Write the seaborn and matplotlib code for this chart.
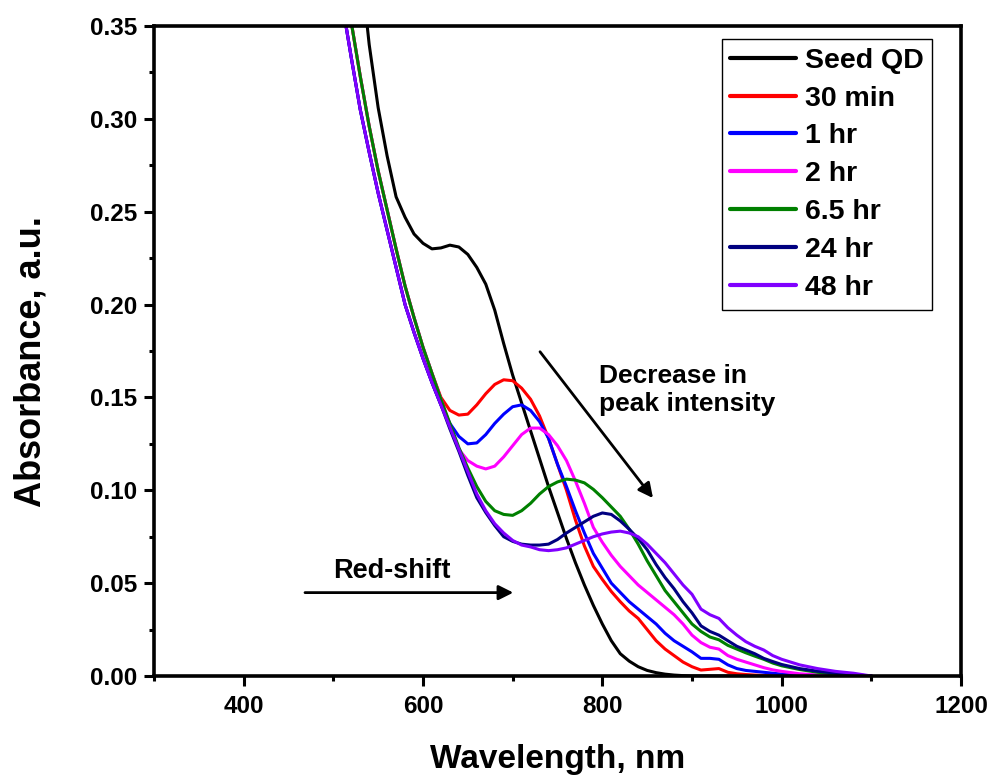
import matplotlib
matplotlib.use("Agg")
import matplotlib.pyplot as plt
import numpy as np
import pandas as pd
import seaborn as sns
from matplotlib.ticker import MultipleLocator, FormatStrFormatter

# ---------------- data ----------------
wavelength = [500, 510, 520, 530, 540, 550, 560, 570, 580, 590,
              600, 610, 620, 630, 640, 650, 660, 670, 680, 690,
              700, 710, 720, 730, 740, 750, 760, 770, 780, 790,
              800, 810, 820, 830, 840, 850, 860, 870, 880, 890,
              900, 910, 920, 930, 940, 950, 960, 970, 980, 990,
              1000, 1020, 1040, 1060, 1080, 1100]

seed_qd = [0.56, 0.50, 0.44, 0.385, 0.340, 0.306, 0.280, 0.258, 0.247, 0.238,
           0.233, 0.230, 0.2305, 0.232, 0.231, 0.227, 0.220, 0.211, 0.197, 0.179,
           0.162, 0.147, 0.132, 0.117, 0.102, 0.088, 0.074, 0.061, 0.049, 0.038,
           0.028, 0.019, 0.012, 0.008, 0.005, 0.003, 0.0018, 0.001, 0.0005, 0.0002,
           0.0, 0.0, 0.0, 0.0, 0.0, 0.0, 0.0, 0.0, 0.0, 0.0,
           0.0, 0.0, 0.0, 0.0, 0.0, 0.0]

min30 = [0.41, 0.38, 0.352, 0.323, 0.296, 0.272, 0.251, 0.230, 0.210, 0.193,
         0.177, 0.163, 0.150, 0.143, 0.1405, 0.141, 0.146, 0.152, 0.157, 0.1595,
         0.159, 0.155, 0.149, 0.140, 0.128, 0.114, 0.100, 0.084, 0.070, 0.059,
         0.052, 0.0455, 0.040, 0.035, 0.031, 0.025, 0.019, 0.0145, 0.011, 0.0075,
         0.005, 0.0032, 0.0036, 0.004, 0.002, 0.0012, 0.0008, 0.0005, 0.0003, 0.0002,
         0.0001, 0.0, 0.0, 0.0, 0.0, 0.0]

hr1 = [0.39, 0.362, 0.333, 0.305, 0.282, 0.260, 0.240, 0.220, 0.200, 0.185,
       0.171, 0.158, 0.146, 0.136, 0.129, 0.125, 0.1255, 0.130, 0.136, 0.141,
       0.145, 0.146, 0.143, 0.137, 0.128, 0.114, 0.102, 0.089, 0.077, 0.066,
       0.058, 0.050, 0.045, 0.040, 0.036, 0.032, 0.028, 0.023, 0.019, 0.016,
       0.013, 0.0095, 0.0095, 0.009, 0.006, 0.004, 0.003, 0.0025, 0.002, 0.0015,
       0.001, 0.0005, 0.0002, 0.0, 0.0, 0.0]

hr2 = [0.41, 0.38, 0.352, 0.323, 0.296, 0.272, 0.251, 0.230, 0.210, 0.193,
       0.177, 0.163, 0.149, 0.135, 0.122, 0.116, 0.113, 0.1115, 0.113, 0.118,
       0.124, 0.130, 0.1335, 0.1335, 0.130, 0.124, 0.116, 0.105, 0.093, 0.080,
       0.072, 0.065, 0.059, 0.054, 0.049, 0.045, 0.041, 0.037, 0.033, 0.028,
       0.022, 0.018, 0.0155, 0.0145, 0.011, 0.009, 0.0075, 0.006, 0.0045, 0.0033,
       0.0025, 0.0012, 0.0006, 0.0002, 0.0, 0.0]

hr6_5 = [0.41, 0.38, 0.352, 0.323, 0.296, 0.272, 0.251, 0.230, 0.210, 0.193,
         0.177, 0.163, 0.149, 0.136, 0.123, 0.112, 0.102, 0.094, 0.089, 0.087,
         0.0865, 0.089, 0.093, 0.098, 0.102, 0.1045, 0.106, 0.1055, 0.104, 0.1005,
         0.096, 0.091, 0.086, 0.079, 0.071, 0.062, 0.054, 0.046, 0.040, 0.034,
         0.028, 0.024, 0.021, 0.0195, 0.0165, 0.0145, 0.0125, 0.0107, 0.009, 0.007,
         0.0055, 0.0035, 0.002, 0.001, 0.0005, 0.0]

hr24 = [0.39, 0.362, 0.333, 0.305, 0.282, 0.260, 0.240, 0.220, 0.200, 0.185,
        0.171, 0.158, 0.146, 0.133, 0.121, 0.108, 0.096, 0.088, 0.081, 0.075,
        0.0725, 0.071, 0.0705, 0.0705, 0.071, 0.0735, 0.077, 0.080, 0.083, 0.086,
        0.0878, 0.087, 0.0835, 0.079, 0.074, 0.068, 0.060, 0.053, 0.047, 0.040,
        0.034, 0.027, 0.024, 0.022, 0.019, 0.016, 0.014, 0.012, 0.0095, 0.0078,
        0.0062, 0.004, 0.0026, 0.0015, 0.0007, 0.0]

hr48 = [0.39, 0.362, 0.333, 0.305, 0.282, 0.260, 0.240, 0.220, 0.200, 0.185,
        0.171, 0.158, 0.146, 0.134, 0.122, 0.110, 0.098, 0.089, 0.082, 0.077,
        0.073, 0.0705, 0.0695, 0.068, 0.0675, 0.068, 0.069, 0.071, 0.073, 0.075,
        0.0765, 0.0775, 0.078, 0.077, 0.075, 0.071, 0.066, 0.061, 0.055, 0.049,
        0.044, 0.036, 0.033, 0.031, 0.026, 0.022, 0.0185, 0.016, 0.014, 0.011,
        0.009, 0.006, 0.004, 0.0025, 0.0015, 0.0]

series_names = ["Seed QD", "30 min", "1 hr", "2 hr", "6.5 hr", "24 hr", "48 hr"]
series_values = [seed_qd, min30, hr1, hr2, hr6_5, hr24, hr48]
series_colors = ["#000000", "#FF0000", "#0000FF", "#FF00FF", "#008000", "#000080", "#8000FF"]

x_major_ticks = [400, 600, 800, 1000, 1200]
y_major_ticks = [0.00, 0.05, 0.10, 0.15, 0.20, 0.25, 0.30, 0.35]

df = pd.concat(
    [pd.DataFrame({"Wavelength": wavelength, "Absorbance": vals, "Sample": name})
     for name, vals in zip(series_names, series_values)],
    ignore_index=True)

# ---------------- styling ----------------
sns.set_theme(style="ticks")
plt.rcParams["font.family"] = ["Liberation Sans", "DejaVu Sans"]
plt.rcParams["font.weight"] = "bold"
plt.rcParams["axes.labelweight"] = "bold"
plt.rcParams["text.color"] = "black"
plt.rcParams["axes.labelcolor"] = "black"
plt.rcParams["xtick.color"] = "black"
plt.rcParams["ytick.color"] = "black"

fig = plt.figure(figsize=(9.91, 7.77), dpi=100)
ax = fig.add_axes([154 / 991, 1 - 676 / 777, 807 / 991, 650 / 777])

sns.lineplot(data=df, x="Wavelength", y="Absorbance", hue="Sample",
             hue_order=series_names, palette=dict(zip(series_names, series_colors)),
             estimator=None, sort=False, linewidth=2.2, ax=ax)

ax.set_xlim(300, 1200)
ax.set_ylim(0, 0.35)
ax.set_xticks(x_major_ticks)
ax.set_yticks(y_major_ticks)
ax.xaxis.set_minor_locator(MultipleLocator(100))
ax.yaxis.set_minor_locator(MultipleLocator(0.025))
ax.yaxis.set_major_formatter(FormatStrFormatter("%.2f"))

for s in ax.spines.values():
    s.set_linewidth(2.6)
    s.set_color("black")
    s.set_visible(True)

ax.tick_params(which="major", direction="out", length=7, width=2.2, color="black",
               labelsize=17.5, labelcolor="black", top=False, right=False)
ax.tick_params(axis="x", which="major", pad=7)
ax.tick_params(axis="y", which="major", pad=5)
ax.tick_params(which="minor", direction="out", length=3.5, width=2.2, color="black",
               top=False, right=False)
for lab in ax.get_xticklabels() + ax.get_yticklabels():
    lab.set_fontweight("bold")
    lab.set_color("black")

ax.set_xlabel("Wavelength, nm", fontsize=24, fontweight="bold", color="black")
ax.set_ylabel("Absorbance, a.u.", fontsize=26, fontweight="bold", color="black")
ax.xaxis.set_label_coords(0.5, -0.105)
ax.yaxis.set_label_coords(-0.131, 0.483)

handles, labels = ax.get_legend_handles_labels()
leg = ax.legend(handles, labels, loc="upper right", bbox_to_anchor=(0.964, 0.98),
                borderaxespad=0, prop={"weight": "bold", "size": 20.5},
                handlelength=2.3, handletextpad=0.32, labelspacing=0.42,
                frameon=True, fancybox=False, edgecolor="black", borderpad=0.3,
                framealpha=1, labelcolor="black")
leg.get_frame().set_linewidth(1.0)
for ln in leg.get_lines():
    ln.set_linewidth(3)

ax.text(796, 0.168, "Decrease in\npeak intensity", ha="left", va="top",
        fontsize=19, fontweight="bold", color="black", linespacing=1.2)
ax.annotate("", xy=(856.5, 0.0958), xytext=(730.5, 0.1746),
            arrowprops=dict(arrowstyle="-|>", color="black", lw=2,
                            mutation_scale=22, shrinkA=0, shrinkB=0))
ax.text(499.6, 0.0528, "Red-shift", ha="left", va="baseline",
        fontsize=19.5, fontweight="bold", color="black")
ax.annotate("", xy=(700.7, 0.0449), xytext=(468.4, 0.0449),
            arrowprops=dict(arrowstyle="-|>", color="black", lw=2,
                            mutation_scale=22, shrinkA=0, shrinkB=0))

fig.savefig("out.png", dpi=100)
